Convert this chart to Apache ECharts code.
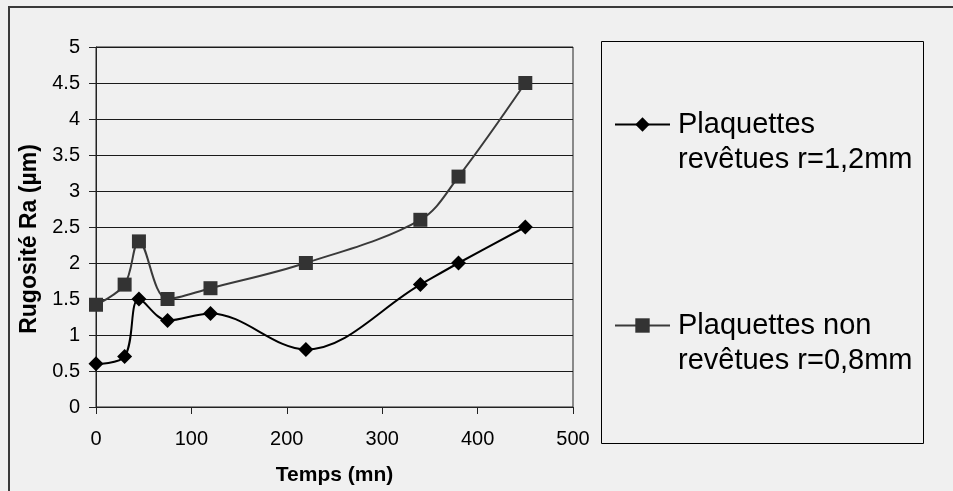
<!DOCTYPE html>
<html><head><meta charset="utf-8">
<script src="https://cdn.jsdelivr.net/npm/echarts@6/dist/echarts.min.js"></script>
<style>html,body{margin:0;padding:0;background:#f0f0f0}#c{width:953px;height:491px}</style>
</head><body><div id="c"></div>
<script>
const timeMin = [0, 30, 45, 75, 120, 220, 340, 380, 450];
const coatedRa = [0.6, 0.7, 1.5, 1.2, 1.3, 0.8, 1.7, 2.0, 2.5];
const uncoatedRa = [1.42, 1.7, 2.3, 1.5, 1.65, 2.0, 2.6, 3.2, 4.5];
const seriesNames = ['Plaquettes revêtues r=1,2mm', 'Plaquettes non revêtues r=0,8mm'];
const legendLabels = {
  'Plaquettes revêtues r=1,2mm': ['Plaquettes', 'revêtues r=1,2mm'],
  'Plaquettes non revêtues r=0,8mm': ['Plaquettes non', 'revêtues r=0,8mm']
};
const xTitle = 'Temps (mn)';
const yTitle = 'Rugosité Ra (µm)';

const FONT = '"Liberation Sans", Arial, sans-serif';
const pairs = (xs, ys) => xs.map((x, i) => [x, ys[i]]);
// a blank first line keeps the first text line level with the legend symbol
const legendFormat = n => ['\u00a0'].concat(legendLabels[n]).join('\n');

const chart = echarts.init(document.getElementById('c'), null, {renderer: 'canvas'});
const legendText = {
  fontFamily: FONT, fontSize: 29, color: '#000', lineHeight: 35,
  padding: [0, 0, 0, 3]
};
chart.setOption({
  backgroundColor: '#f0f0f0',
  animation: false,
  grid: {left: 96, top: 47, width: 477, height: 362, show: true,
         borderColor: '#222', borderWidth: 1, backgroundColor: 'transparent'},
  legend: [
    {data: [seriesNames[0]], orient: 'vertical', left: 614, top: 72, padding: 0,
     itemWidth: 55, itemHeight: 18, formatter: legendFormat, textStyle: legendText},
    {data: [seriesNames[1]], orient: 'vertical', left: 614, top: 273, padding: 0,
     itemWidth: 55, itemHeight: 18, formatter: legendFormat, textStyle: legendText}
  ],
  xAxis: {
    type: 'value', min: 0, max: 500, interval: 100,
    name: xTitle, nameLocation: 'middle', nameGap: 58,
    nameTextStyle: {fontFamily: FONT, fontSize: 21, fontWeight: 'bold', color: '#000'},
    axisLine: {show: true, lineStyle: {color: '#222', width: 1}},
    axisTick: {show: true, length: 7, lineStyle: {color: '#222'}},
    axisLabel: {fontFamily: FONT, fontSize: 20, color: '#000', margin: 22},
    splitLine: {show: false}
  },
  yAxis: {
    type: 'value', min: 0, max: 5, interval: 0.5,
    name: yTitle, nameLocation: 'middle', nameGap: 54, nameRotate: 90,
    nameTextStyle: {fontFamily: FONT, fontSize: 23, fontWeight: 'bold', color: '#000',
                    padding: [0, 24, 0, 0]},
    axisLine: {show: true, lineStyle: {color: '#222', width: 1}},
    axisTick: {show: true, length: 7, lineStyle: {color: '#222'}},
    axisLabel: {fontFamily: FONT, fontSize: 20, color: '#000', margin: 16},
    splitLine: {show: true, lineStyle: {color: '#1a1a1a', width: 1}}
  },
  series: [
    {name: seriesNames[0], type: 'line', data: pairs(timeMin, coatedRa),
     smooth: 0.35, symbol: 'diamond', symbolSize: 15,
     lineStyle: {color: '#000', width: 2}, itemStyle: {color: '#000'}},
    {name: seriesNames[1], type: 'line', data: pairs(timeMin, uncoatedRa),
     smooth: 0.35, symbol: 'rect', symbolSize: 14,
     lineStyle: {color: '#3a3a3a', width: 2}, itemStyle: {color: '#333'}}
  ],
  graphic: [
    {type: 'rect', shape: {x: 9, y: 7, width: 1000, height: 600}, silent: true,
     style: {fill: 'none', stroke: '#3a3a3a', lineWidth: 2}},
    {type: 'rect', shape: {x: 601.5, y: 41.5, width: 322, height: 402}, silent: true,
     style: {fill: 'none', stroke: '#000', lineWidth: 1}}
  ]
});
</script></body></html>
